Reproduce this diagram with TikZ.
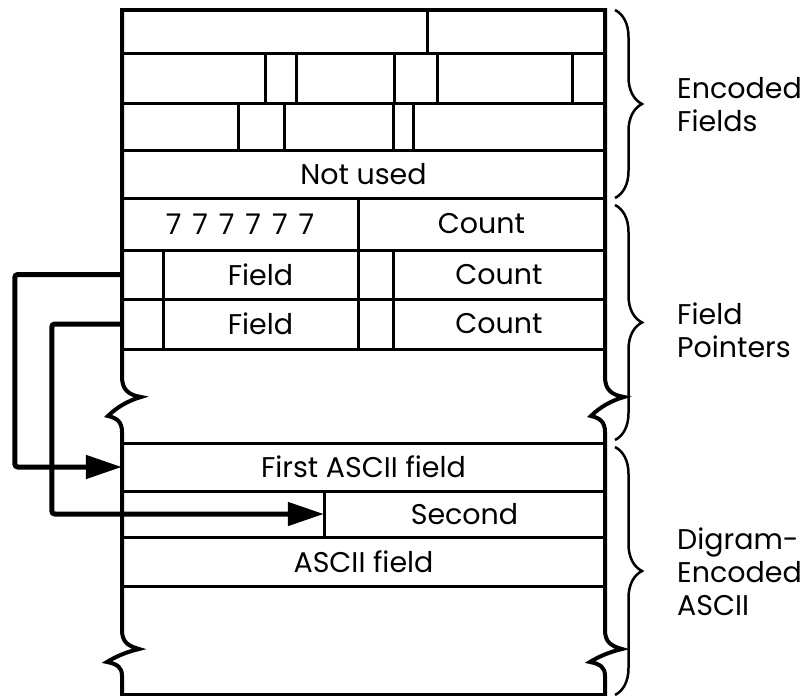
\documentclass[tikz,border=0pt]{standalone}
\usepackage{fontspec}
\setmainfont{Poppins}
\usetikzlibrary{arrows.meta,decorations.pathreplacing}
\tikzset{
  frame/.style={line width=4pt, line cap=rect},
  rule/.style={line width=3pt},
  cell/.style={inner sep=0pt, font=\fontsize{28.5}{33}\selectfont},
  ptr/.style={-{Triangle[length=36pt,width=23pt]}, line width=5pt, rounded corners=3pt},
  grp/.style={decorate, decoration={brace, amplitude=27pt}, line width=2.5pt},
  tag/.style={anchor=west, align=left, inner sep=0pt, font=\fontsize{28.5}{33}\selectfont},
}

\begin{document}
\begin{tikzpicture}[x=1pt, y=-1pt]
  \useasboundingbox (0,0) rectangle (804,696);

  % row lines and cell walls
  \foreach \y in {53,103,150,198,250,299,349,443,491,537,586}
    \draw[rule] (122,\y) -- (605,\y);
  \foreach \xa/\ya/\yb in {427/10/53, 265/53/103, 296/53/103, 394/53/103, 437/53/103, 572/53/103,
                           238/103/150, 284/103/150, 393/103/150, 413/103/150, 358/198/250,
                           163/250/349, 358/250/349, 393/250/349, 324/491/537}
    \draw[rule] (\xa,\ya) -- (\xa,\yb);

  % outline with the two breaks
  \draw[frame] (122,10) -- (605,10);
  \draw[frame] (122,695) -- (605,695);
  \foreach \x in {122,605}
    \draw[frame] (\x,10) -- (\x,377)
      .. controls (\x,390) and (\x+7,395) .. (\x+19,397)
      .. controls (\x+5,401) and (\x-6,408) .. (\x-14,416)
      .. controls (\x-5,418) and (\x,422) .. (\x,432) -- (\x,630)
      .. controls (\x,642) and (\x+6,646) .. (\x+17,649)
      .. controls (\x+4,652) and (\x-7,657) .. (\x-15,662)
      .. controls (\x-5,664) and (\x,667) .. (\x,676) -- (\x,695);

  \node[cell] (notused) at (363.5,174) {Not used};
  \node[cell] (sevens) at (240,224) {7\hspace{11pt}7\hspace{11pt}7\hspace{11pt}7\hspace{11pt}7\hspace{11pt}7};
  \node[cell] (countA) at (481.5,224) {Count};
  \node[cell, minimum width=41pt, minimum height=49pt] (ptrA) at (142.5,274.5) {};
  \node[cell] (fieldA) at (260.5,274.5) {Field};
  \node[cell] (countB) at (499,274.5) {Count};
  \node[cell, minimum width=41pt, minimum height=50pt] (ptrB) at (142.5,324) {};
  \node[cell] (fieldB) at (260.5,324) {Field};
  \node[cell] (countC) at (499,324) {Count};
  \node[cell, minimum width=483pt, minimum height=48pt] (first) at (363.5,467) {First ASCII field};
  \node[cell, minimum width=281pt, minimum height=46pt] (second) at (464.5,514) {Second};
  \node[cell] (asciifield) at (363.5,561.5) {ASCII field};

  \draw[ptr] (ptrA.west) -- ++(-107,0) |- (first.west);
  \draw[ptr] (ptrB.west) -- ++(-70,0) |- (second.west);

  \draw[grp] (615,10) -- (615,198);
  \draw[grp] (615,205) -- (615,440);
  \draw[grp] (615,447) -- (615,695);

  \node[tag] (encoded) at (677,105) {Encoded\\Fields};
  \node[tag] (pointers) at (677,330) {Field\\Pointers};
  \node[tag] (digram) at (677,572) {Digram-\\Encoded\\ASCII};
\end{tikzpicture}
\end{document}
